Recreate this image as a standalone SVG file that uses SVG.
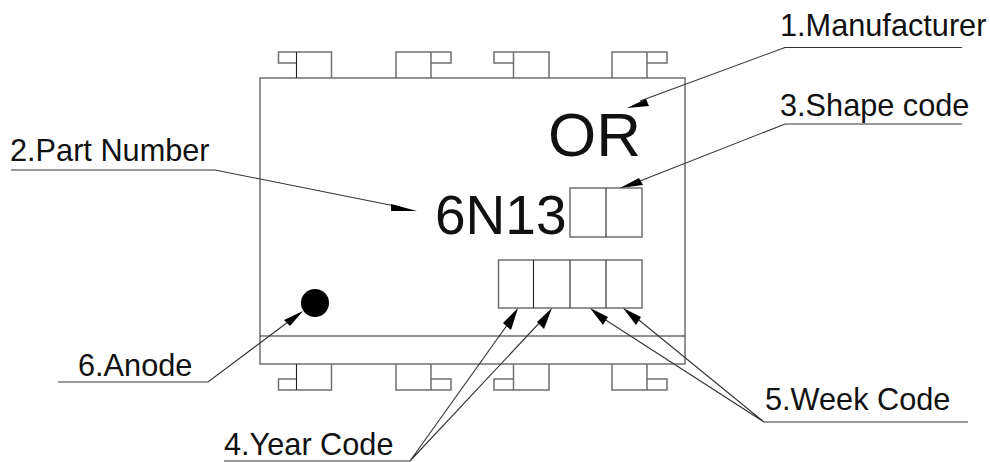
<svg xmlns="http://www.w3.org/2000/svg" width="990" height="462" viewBox="0 0 990 462">
<style>
.o{fill:none;stroke:#707070;stroke-width:1.5}
.d{fill:none;stroke:#222;stroke-width:1.1}
.c{fill:none;stroke:#333;stroke-width:1.1}
text{font-family:"Liberation Sans",Arial,sans-serif;fill:#111}
.l{font-size:30.7px}
.a{fill:#000;stroke:none}
</style>
<rect width="990" height="462" fill="#fff"/>
<g id="package">
<rect class="o" x="260" y="78" width="425" height="286"/>
<path class="d" d="M260 336H685"/>
</g>
<g id="pins-top">
<path class="o" d="M296.500 63H278.500V52H331.500V78M396 78V52H451V63H431M431 52V78M513.500 63H494V52H549V78M513.500 52V78M612 78V52H667V63H647M647 52V78"/>
<path class="d" d="M296.500 52V78"/>
</g>
<g id="pins-bottom">
<path class="o" d="M296.500 379H278.500V390H331.500V364M396 364V390H451V379H431M431 390V364M513.500 379H494V390H549V364M513.500 390V364M612 364V390H667V379H647M647 390V364"/>
<path class="d" d="M296.500 364V390"/>
</g>
<g id="shape-code-boxes">
<rect class="o" x="570" y="188" width="72" height="49"/>
<path class="d" d="M606 188V237"/>
</g>
<g id="date-code-boxes">
<rect class="o" x="498.500" y="260" width="143.500" height="48"/>
<path class="d" d="M533.500 260V308M570 260V308M606 260V308"/>
</g>
<g id="anode-dot"><circle cx="315" cy="303" r="14" fill="#000"/></g>
<g id="marking">
<text x="548" y="156" font-size="62">OR</text>
<text x="435" y="234" font-size="55">6N13</text>
</g>
<g id="connectors">
<path class="c" d="M962 47.500H785L640 101"/>
<path class="c" d="M962 124H785L640 181"/>
<path class="c" d="M11 170H215L400 207"/>
<path class="c" d="M58 382H208L288 322"/>
<path class="c" d="M224 461H410L510 321M410 461L543 319"/>
<path class="c" d="M764 422H968M764 422L601 317M764 422L634 316"/>
<polygon class="a" points="627,108 646,99 649,106"/>
<polygon class="a" points="620,188 639,178 643,185"/>
<polygon class="a" points="417,211 391,204 391,211"/>
<polygon class="a" points="303,311 284,320 290,326"/>
<polygon class="a" points="518,308 503,323 511,330"/>
<polygon class="a" points="552,308 537,322 544,329"/>
<polygon class="a" points="590,308 608,317 603,325"/>
<polygon class="a" points="623,308 641,317 636,325"/>
</g>
<g id="labels">
<text class="l" x="780" y="36">1.Manufacturer</text>
<text class="l" x="780" y="116">3.Shape code</text>
<text class="l" x="10" y="161">2.Part Number</text>
<text class="l" x="78" y="376">6.Anode</text>
<text class="l" x="224" y="455">4.Year Code</text>
<text class="l" x="765" y="410">5.Week Code</text>
</g>
</svg>
